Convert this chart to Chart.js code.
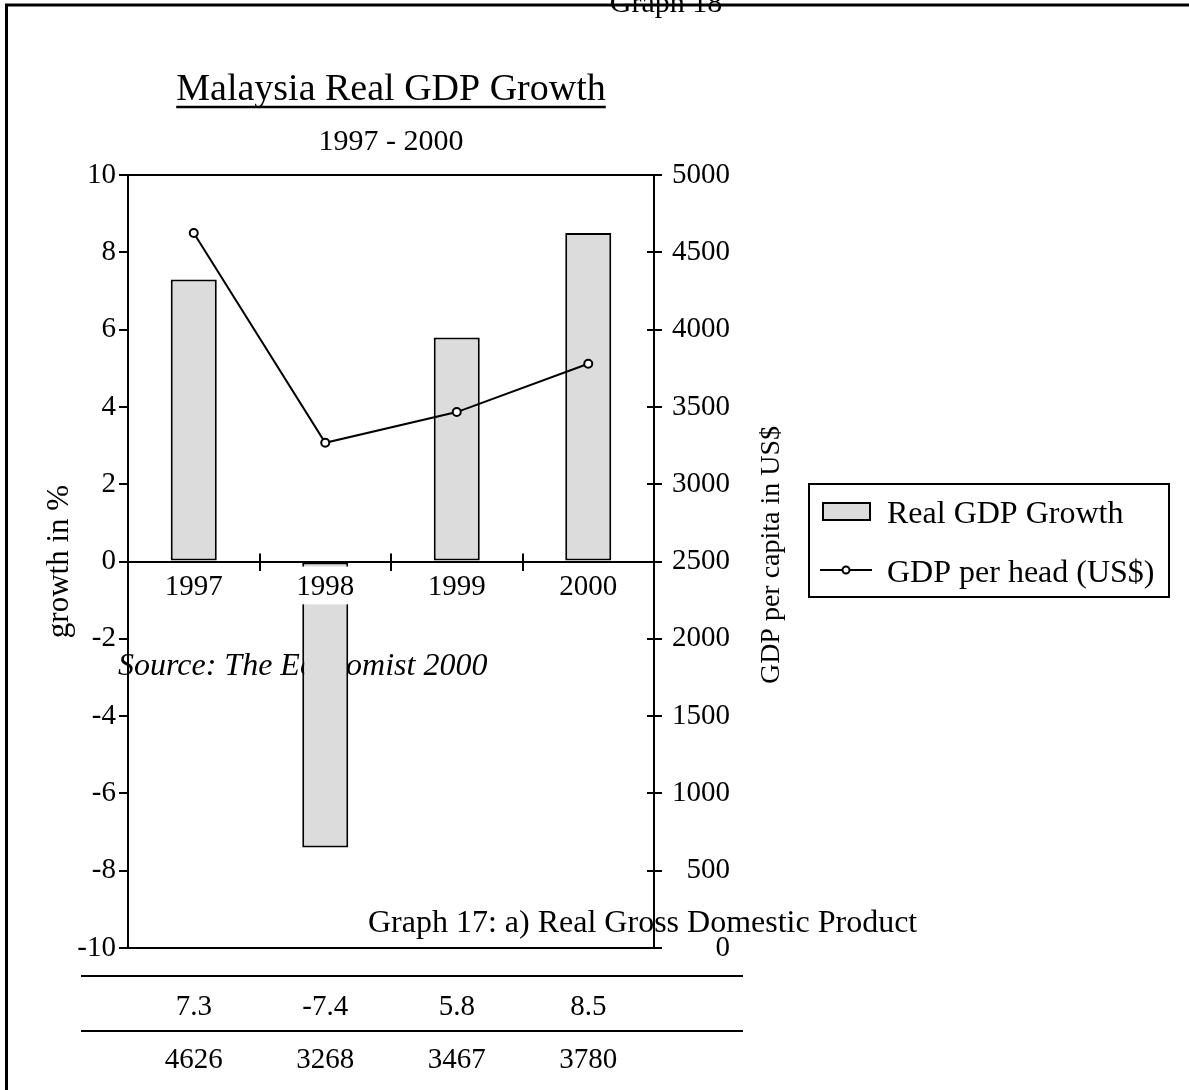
<!DOCTYPE html>
<html>
<head>
<meta charset="utf-8">
<script src="https://cdn.jsdelivr.net/npm/chart.js@4.4.1/dist/chart.umd.min.js"></script>
<style>
  html, body { margin: 0; padding: 0; background: #fff; }
  canvas { display: block; }
</style>
</head>
<body>
<canvas id="chart" width="1189" height="1090"></canvas>
<script>
// data
const years = ['1997', '1998', '1999', '2000'];
const realGdpGrowth = [7.3, -7.4, 5.8, 8.5];
const gdpPerHead = [4626, 3268, 3467, 3780];
const seriesNames = ['Real GDP Growth', 'GDP per head (US$)'];

const SERIF = "'Liberation Serif', 'Times New Roman', serif";
const BAR_GREY = '#dcdcdc';
const LW = 2;

Chart.defaults.font.family = SERIF;
Chart.defaults.color = '#000';

// everything around the plot: frame, captions, legend box, value table
const pageDecor = {
    id: 'pageDecor',
    beforeDraw(chart) {
        const ctx = chart.ctx;
        ctx.save();
        ctx.fillStyle = '#000';
        ctx.textAlign = 'left';
        ctx.textBaseline = 'alphabetic';
        ctx.font = `32px ${SERIF}`;
        ctx.fillText('Graph 17: a) Real Gross Domestic Product', 368, 932);
        ctx.font = `italic 32px ${SERIF}`;
        ctx.fillText('Source: The Economist 2000', 118, 675);
        ctx.restore();
    },
    afterDraw(chart) {
        const ctx = chart.ctx;
        const xs = chart.scales.x;
        const y1 = chart.scales.y1;
        const ys = chart.scales.y;
        const area = chart.chartArea;
        ctx.save();
        ctx.strokeStyle = '#000';
        ctx.fillStyle = '#000';

        // page frame
        ctx.lineWidth = 3;
        ctx.beginPath();
        ctx.moveTo(6.5, 1090);
        ctx.lineTo(6.5, 5);
        ctx.lineTo(1189, 5);
        ctx.stroke();

        ctx.font = `30px ${SERIF}`;
        ctx.textAlign = 'center';
        ctx.fillText('Graph 18', 666, 12);

        // underline the title
        const tb = chart.titleBlock;
        ctx.font = `38px ${SERIF}`;
        const tw = ctx.measureText(chart.options.plugins.title.text).width;
        const tcx = (tb.left + tb.right) / 2;
        ctx.lineWidth = 2.5;
        ctx.beginPath();
        ctx.moveTo(tcx - tw / 2, 107);
        ctx.lineTo(tcx + tw / 2, 107);
        ctx.stroke();

        // inner half of the category ticks and right axis ticks
        ctx.lineWidth = LW;
        const zeroY = ys.getPixelForValue(0);
        ctx.beginPath();
        for (let i = 0; i < years.length - 1; i++) {
            const x = Math.round((xs.getPixelForValue(i) + xs.getPixelForValue(i + 1)) / 2);
            ctx.moveTo(x, zeroY - 8);
            ctx.lineTo(x, zeroY);
        }
        y1.ticks.forEach(t => {
            const y = Math.round(y1.getPixelForValue(t.value));
            ctx.moveTo(area.right - 7, y);
            ctx.lineTo(area.right, y);
        });
        ctx.stroke();

        // right axis title (reads upwards)
        ctx.save();
        ctx.translate(772, 555);
        ctx.rotate(-Math.PI / 2);
        ctx.font = `28px ${SERIF}`;
        ctx.textAlign = 'center';
        ctx.textBaseline = 'middle';
        ctx.fillText('GDP per capita in US$', 0, 0);
        ctx.restore();

        // legend
        const bar = chart.data.datasets[0];
        const line = chart.data.datasets[1];
        ctx.lineWidth = LW;
        ctx.strokeRect(809, 484, 360, 113);
        ctx.fillStyle = bar.backgroundColor;
        ctx.fillRect(823, 503, 47, 17);
        ctx.strokeStyle = bar.borderColor;
        ctx.strokeRect(823, 503, 47, 17);
        ctx.strokeStyle = line.borderColor;
        ctx.beginPath();
        ctx.moveTo(820, 570);
        ctx.lineTo(872, 570);
        ctx.stroke();
        ctx.beginPath();
        ctx.arc(846, 570, 3.5, 0, Math.PI * 2);
        ctx.fillStyle = line.pointBackgroundColor;
        ctx.fill();
        ctx.stroke();
        ctx.fillStyle = '#000';
        ctx.font = `32px ${SERIF}`;
        ctx.textAlign = 'left';
        ctx.textBaseline = 'alphabetic';
        ctx.fillText(seriesNames[0], 887, 523);
        ctx.fillText(seriesNames[1], 887, 582);

        // value table under the chart
        ctx.lineWidth = LW;
        ctx.beginPath();
        ctx.moveTo(81, 976);
        ctx.lineTo(743, 976);
        ctx.moveTo(81, 1031);
        ctx.lineTo(743, 1031);
        ctx.stroke();
        ctx.font = `29px ${SERIF}`;
        ctx.textAlign = 'center';
        realGdpGrowth.forEach((v, i) => ctx.fillText(String(v), xs.getPixelForValue(i), 1015));
        gdpPerHead.forEach((v, i) => ctx.fillText(String(v), xs.getPixelForValue(i), 1068));
        ctx.restore();
    }
};

new Chart(document.getElementById('chart'), {
    type: 'bar',
    data: {
        labels: years,
        datasets: [
            {
                type: 'bar',
                label: seriesNames[0],
                data: realGdpGrowth,
                yAxisID: 'y',
                backgroundColor: BAR_GREY,
                borderColor: '#000',
                borderWidth: LW,
                borderSkipped: false,
                barPercentage: 0.35,
                categoryPercentage: 1,
                order: 1
            },
            {
                type: 'line',
                label: seriesNames[1],
                data: gdpPerHead,
                yAxisID: 'y1',
                borderColor: '#000',
                borderWidth: LW,
                tension: 0,
                fill: false,
                pointRadius: 4,
                pointBackgroundColor: '#fff',
                pointBorderColor: '#000',
                pointBorderWidth: 2,
                order: 0
            }
        ]
    },
    options: {
        responsive: false,
        devicePixelRatio: 1,
        animation: false,
        events: [],
        layout: { padding: { top: 0, left: 0, right: 459, bottom: 142 } },
        scales: {
            x: {
                type: 'category',
                position: { y: 0 },
                offset: true,
                grid: {
                    offset: true,
                    drawOnChartArea: false,
                    tickLength: 8,
                    color: '#000',
                    lineWidth: LW
                },
                border: { color: '#000', width: LW },
                ticks: {
                    font: { size: 29 },
                    color: '#000',
                    padding: 0,
                    z: 1,
                    showLabelBackdrop: true,
                    backdropColor: '#fff',
                    backdropPadding: { top: 3, bottom: 0, left: 1, right: 1 }
                }
            },
            y: {
                type: 'linear',
                position: 'left',
                min: -10,
                max: 10,
                ticks: { stepSize: 2, font: { size: 29 }, color: '#000', padding: 3 },
                grid: {
                    color: c => (c.tick && Math.abs(c.tick.value) === 10) ? '#000' : 'rgba(0,0,0,0)',
                    tickColor: '#000',
                    tickLength: 9,
                    lineWidth: LW
                },
                border: { color: '#000', width: LW },
                title: {
                    display: true,
                    text: 'growth in %',
                    font: { size: 31 },
                    color: '#000',
                    padding: { top: 41, bottom: 0 }
                },
                afterFit: s => { s.width = 128; }
            },
            y1: {
                type: 'linear',
                position: 'right',
                min: 0,
                max: 5000,
                ticks: {
                    stepSize: 500,
                    font: { size: 29 },
                    color: '#000',
                    crossAlign: 'far',
                    callback: v => String(v)
                },
                grid: {
                    drawOnChartArea: false,
                    color: '#000',
                    tickLength: 8,
                    lineWidth: LW
                },
                border: { color: '#000', width: LW },
                afterFit: s => { s.width = 76; }
            }
        },
        plugins: {
            legend: { display: false },
            tooltip: { enabled: false },
            title: {
                display: true,
                text: 'Malaysia Real GDP Growth',
                fullSize: false,
                color: '#000',
                font: { size: 38, weight: 'normal' },
                padding: { top: 67, bottom: 0 }
            },
            subtitle: {
                display: true,
                text: '1997 - 2000',
                fullSize: false,
                color: '#000',
                font: { size: 30 },
                padding: { top: 11.5, bottom: 15 }
            }
        }
    },
    plugins: [pageDecor]
});
</script>
</body>
</html>
